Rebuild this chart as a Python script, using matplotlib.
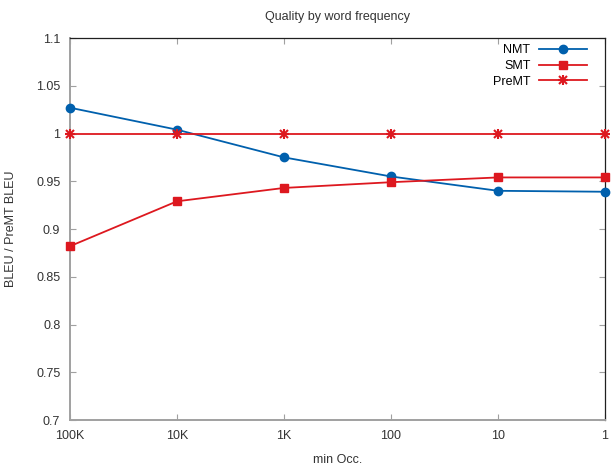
import matplotlib
matplotlib.use("Agg")
import matplotlib.pyplot as plt
from matplotlib.legend_handler import HandlerTuple

CATEGORIES = ["100K", "10K", "1K", "100", "10", "1"]
NMT   = [1.027, 1.004, 0.975, 0.955, 0.940, 0.939]
SMT   = [0.882, 0.929, 0.943, 0.949, 0.954, 0.954]
PREMT = [1.0, 1.0, 1.0, 1.0, 1.0, 1.0]
Y_TICKS = [0.7, 0.75, 0.8, 0.85, 0.9, 0.95, 1.0, 1.05, 1.1]
Y_TICK_LABELS = ["0.7", "0.75", "0.8", "0.85", "0.9", "0.95", "1", "1.05", "1.1"]

BLUE = "#0060ad"
RED = "#dd181f"
GRAY = "#a0a0a0"
TEXT = "#333333"

plt.rcParams["font.family"] = ["Liberation Sans", "DejaVu Sans"]

fig = plt.figure(figsize=(6.13, 4.76), dpi=100)
ax = fig.add_axes([70 / 613, 56 / 476, 535 / 613, 382 / 476])

x = list(range(len(CATEGORIES)))
h1, = ax.plot(x, NMT, color=BLUE, marker="o", markersize=6, linewidth=1.3,
              clip_on=False, zorder=5)
h2, = ax.plot(x, SMT, color=RED, marker="s", markersize=6, linewidth=1.3,
              clip_on=False, zorder=5)
h3, = ax.plot(x, PREMT, color=RED, marker="x", markersize=6, markeredgewidth=1.5,
              linewidth=1.3, clip_on=False, zorder=5)
h3b, = ax.plot(x, PREMT, color=RED, marker="+", markersize=7.5, markeredgewidth=1.5,
               linewidth=0, clip_on=False, zorder=5)

ax.set_xlim(0, len(CATEGORIES) - 1)
ax.set_ylim(0.7, 1.1)
ax.set_xticks(x)
ax.set_xticklabels(CATEGORIES)
ax.set_yticks(Y_TICKS)
ax.set_yticklabels(Y_TICK_LABELS)
ax.tick_params(direction="in", length=4, color=GRAY, labelsize=9, labelcolor=TEXT,
               top=True, right=True, pad=7)
for side, s in ax.spines.items():
    s.set_color(GRAY if side in ("left", "bottom") else "#202020")
    s.set_linewidth(1.4 if side in ("left", "bottom") else 0.9)

ax.set_xlabel("min Occ.", fontsize=9, color=TEXT, labelpad=9)
ax.set_ylabel("BLEU / PreMT BLEU", fontsize=9, color=TEXT, labelpad=14)
ax.set_title("Quality by word frequency", fontsize=9, color=TEXT, pad=13)

ax.legend([h1, h2, (h3, h3b)], ["NMT", "SMT", "PreMT"],
          handler_map={tuple: HandlerTuple(ndivide=1, pad=0)},
          loc="upper right", bbox_to_anchor=(1 - 12 / 535, 1.0),
          frameon=False, markerfirst=False, fontsize=9,
          handlelength=3.8, labelspacing=0.3, borderaxespad=0.1,
          handletextpad=0.7)

plt.savefig("out.png", dpi=100)
plt.close()
